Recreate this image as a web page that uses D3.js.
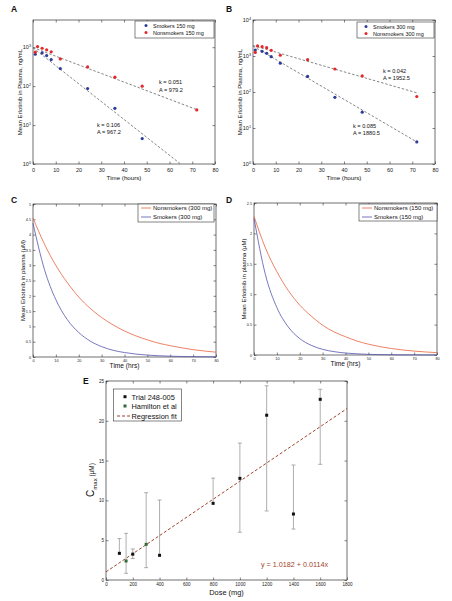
<!DOCTYPE html>
<html><head><meta charset="utf-8">
<script src="https://cdn.jsdelivr.net/npm/d3@7"></script>
<style>body{margin:0;background:#fff} svg{display:block}</style>
</head><body><svg id="c" width="452" height="601"></svg>
<script>
// ---------- DATA ----------
// Panel A (150 mg), concentrations ng/mL
const tSmk150 = [1,4,6,8,12,24,36,48];
const smk150 = [660,715,610,480,283,87,27,4.5];
const tNon150 = [1,2,4,6,8,12,24,36,48,72];
const non150 = [745,1040,940,855,760,500,312,170,100,24.5];
const fitTimeA = [0,72];
const fitSmk150 = [967.2,0.47];
const fitNon150 = [979.2,24.9];
// Panel B (300 mg)
const tSmk300 = [1,4,6,8,12,24,36,48,72];
const smk300 = [1470,1345,1185,960,630,270,71,27.6,4.1];
const tNon300 = [1,2,4,6,8,12,24,36,48,72];
const non300 = [1260,1900,1820,1700,1440,1050,790,435,280,75];
const fitTimeB = [0,72];
const fitSmk300 = [1880.5,4.1];
const fitNon300 = [1952.5,95];
// Panels C / D simulated curves (μM)
const tCurve = [0,5,10,15,20,25,30,35,40,45,50,55,60,65,70,75,80];
const curveNon300 = [4.54,3.69,2.99,2.43,1.96,1.59,1.29,1.05,0.85,0.69,0.56,0.45,0.37,0.30,0.24,0.195,0.158];
const curveSmk300 = [4.37,2.86,1.87,1.22,0.80,0.52,0.34,0.22,0.146,0.095,0.062,0.041,0.027,0.017,0.011,0.0074,0.0048];
const curveNon150 = [2.28,1.76,1.37,1.06,0.82,0.64,0.49,0.38,0.30,0.23,0.178,0.138,0.107,0.083,0.064,0.050,0.039];
const curveSmk150 = [2.25,1.32,0.78,0.46,0.27,0.159,0.093,0.055,0.032,0.019,0.011,0.0066,0.0039,0.0023,0.0013,0.0008,0.0005];
// Panel E
const doseTrial = [100,200,400,800,1000,1200,1400,1600];
const cmaxTrial = [3.35,3.25,3.1,9.63,12.77,20.7,8.29,22.7];
const lowTrial  = [3.35,2.7,3.1,9.63,6.0,8.67,6.4,14.53];
const highTrial = [5.2,3.9,10.05,12.8,17.2,24.4,14.45,23.96];
const doseHam = [150,300];
const cmaxHam = [2.39,4.48];
const lowHam  = [0.84,1.55];
const highHam = [5.86,10.97];
const regDose = [0,1800];
const regCmax = [1.02,21.54];
// tick values
const timeTicks = [0,10,20,30,40,50,60,70,80];
const logTicksA = [1,10,100,1000];
const logTicksB = [1,10,100,1000,10000];
const ticksC = [0,0.5,1,1.5,2,2.5,3,3.5,4,4.5,5];
const ticksD = [0,0.5,1,1.5,2,2.5];
const doseTicks = [0,200,400,600,800,1000,1200,1400,1600,1800];
const cmaxTicks = [0,5,10,15,20,25];

// ---------- DRAW ----------
const FONT = '"Liberation Sans", Arial, Helvetica, sans-serif';
const svg = d3.select("#c").attr("font-family", FONT);
const BLUE = "#2c3d98", RED = "#e5262a";
const CBLUE = "#5454ae", CRED = "#e8623e";

function axes(g, x, y, o) {
  const [x0,x1] = x.range(), [yb,yT] = y.range();
  const ts = o.ts || 3;
  g.append("g").attr("transform",`translate(0,${yb})`)
    .call(d3.axisBottom(x).tickValues(o.xt).tickSizeInner(-ts).tickSizeOuter(0).tickPadding(o.xpad).tickFormat(o.xf));
  g.append("g").attr("transform",`translate(0,${yT})`)
    .call(d3.axisTop(x).tickValues(o.xt).tickSizeInner(-ts).tickSizeOuter(0).tickFormat(""));
  const ay = g.append("g").attr("class","yax").attr("transform",`translate(${x0},0)`)
    .call(d3.axisLeft(y).tickValues(o.yt).tickSizeInner(-ts).tickSizeOuter(0).tickPadding(o.ypad).tickFormat(o.yf));
  g.append("g").attr("transform",`translate(${x1},0)`)
    .call(d3.axisRight(y).tickValues(o.yt).tickSizeInner(-ts).tickSizeOuter(0).tickFormat(""));
  g.selectAll(".domain").remove();
  g.selectAll(".tick line").attr("stroke","#333").attr("stroke-width",0.6);
  g.selectAll(".tick text").attr("font-size",o.fs).attr("fill","#222").attr("font-family",FONT);
  g.append("rect").attr("x",x0).attr("y",yT).attr("width",x1-x0).attr("height",yb-yT)
    .attr("fill","none").attr("stroke","#333").attr("stroke-width",0.7);
  return ay;
}
function supLabels(ay) {
  ay.selectAll(".tick text").each(function(d){
    const t = d3.select(this); t.text(null);
    t.append("tspan").text("10");
    t.append("tspan").attr("dy",-2.5).attr("font-size",3.8).text(Math.round(Math.log10(d)));
  });
}
function txt(g, x, y, s, fs, opt={}) {
  const t = g.append("text").attr("x",x).attr("y",y).attr("font-size",fs).attr("fill",opt.fill||"#111").text(s);
  if (opt.anchor) t.attr("text-anchor",opt.anchor);
  if (opt.weight) t.attr("font-weight",opt.weight);
  return t;
}
function vlabel(g, x, y, s, fs) {
  return g.append("text").attr("transform",`translate(${x},${y}) rotate(-90)`)
    .attr("text-anchor","middle").attr("font-size",fs).attr("fill","#111").text(s);
}

// ---- Log panels A and B ----
function logPanel(id, o) {
  const g = svg.append("g");
  const x = d3.scaleLinear([0,80],[o.left,o.right]);
  const y = d3.scaleLog([1,o.ymax],[164,20]);
  const ay = axes(g,x,y,{xt:timeTicks, yt:o.yticks, xpad:4, ypad:2, fs:5.5, xf:d3.format("d"), yf:d=>"", ts:2.5});
  supLabels(ay);
  g.append("clipPath").attr("id",id).append("rect").attr("x",o.left).attr("y",20).attr("width",o.right-o.left).attr("height",144);
  const pl = g.append("g").attr("clip-path",`url(#${id})`);
  const line = d3.line().x(d=>x(d[0])).y(d=>y(d[1]));
  [o.fitNon,o.fitSmk].forEach(f=>{
    pl.append("path").attr("d",line(d3.zip(o.fitT,f))).attr("fill","none")
      .attr("stroke","#666").attr("stroke-width",0.8).attr("stroke-dasharray","2.5,1.8");
  });
  pl.selectAll(null).data(d3.zip(o.tSmk,o.smk)).join("circle").attr("cx",d=>x(d[0])).attr("cy",d=>y(d[1])).attr("r",1.6).attr("fill",BLUE);
  pl.selectAll(null).data(d3.zip(o.tNon,o.non)).join("circle").attr("cx",d=>x(d[0])).attr("cy",d=>y(d[1])).attr("r",1.6).attr("fill",RED);
  // legend
  const L = o.leg;
  g.append("rect").attr("x",L[0]).attr("y",L[1]).attr("width",L[2]).attr("height",L[3]).attr("fill","#fff").attr("stroke","#333").attr("stroke-width",0.6);
  g.append("circle").attr("cx",L[4]).attr("cy",L[1]+4.5).attr("r",1.5).attr("fill",BLUE);
  g.append("circle").attr("cx",L[4]).attr("cy",L[1]+11.5).attr("r",1.5).attr("fill",RED);
  txt(g,L[4]+7,L[1]+6.5,o.legText[0],5.5);
  txt(g,L[4]+7,L[1]+13.5,o.legText[1],5.5);
  // annotations
  o.ann.forEach(a=>txt(g,a[0],a[1],a[2],5.6));
  vlabel(g,o.left-11,92,"Mean Erlotinib in Plasma, ng/mL",6);
  txt(g,(o.left+o.right)/2,180,"Time (hours)",6.2,{anchor:"middle"});
  txt(g,o.lx,12,o.label,8.5,{weight:"bold"});
}
logPanel("clipA",{left:33,right:215,ymax:5000,yticks:logTicksA,
  tSmk:tSmk150,smk:smk150,tNon:tNon150,non:non150,fitT:fitTimeA,fitSmk:fitSmk150,fitNon:fitNon150,
  leg:[135,21,79,17,146],legText:["Smokers 150 mg","Nonsmokers 150 mg"],
  ann:[[159,84,"k = 0.051"],[159,91.5,"A = 979.2"],[97,126.5,"k = 0.106"],[97,134,"A = 967.2"]],
  label:"A",lx:11});
logPanel("clipB",{left:253,right:435,ymax:10000,yticks:logTicksB,
  tSmk:tSmk300,smk:smk300,tNon:tNon300,non:non300,fitT:fitTimeB,fitSmk:fitSmk300,fitNon:fitNon300,
  leg:[357,22,77,16,366],legText:["Smokers 300 mg","Nonsmokers 300 mg"],
  ann:[[383,72.5,"k = 0.042"],[383,80,"A = 1952.5"],[353,127.5,"k = 0.085"],[353,135,"A = 1880.5"]],
  label:"B",lx:226});

// ---- Linear panels C and D ----
function linPanel(o) {
  const g = svg.append("g");
  const x = d3.scaleLinear([0,80],[o.left,o.right]);
  const y = d3.scaleLinear([0,o.ymax],[o.bottom,o.top]);
  axes(g,x,y,{xt:timeTicks, yt:o.yticks, xpad:2.5, ypad:2, fs:3.8, xf:d3.format("d"), yf:d=>d, ts:2.5});
  const line = d3.line().x((d,i)=>x(tCurve[i])).y(d=>y(d)).curve(d3.curveMonotoneX);
  g.append("path").attr("d",line(o.non)).attr("fill","none").attr("stroke",CRED).attr("stroke-width",0.8);
  g.append("path").attr("d",line(o.smk)).attr("fill","none").attr("stroke",CBLUE).attr("stroke-width",0.8);
  const L=o.leg;
  g.append("rect").attr("x",L[0]).attr("y",L[1]).attr("width",L[2]).attr("height",L[3]).attr("fill","#fff").attr("stroke","#333").attr("stroke-width",0.6);
  g.append("line").attr("x1",L[0]+3).attr("x2",L[0]+13).attr("y1",L[1]+4).attr("y2",L[1]+4).attr("stroke",CRED).attr("stroke-width",0.8);
  g.append("line").attr("x1",L[0]+3).attr("x2",L[0]+13).attr("y1",L[1]+13).attr("y2",L[1]+13).attr("stroke",CBLUE).attr("stroke-width",0.8);
  txt(g,L[0]+15,L[1]+6.2,o.legText[0],6);
  txt(g,L[0]+15,L[1]+15.2,o.legText[1],6);
  vlabel(g,o.left-8,(o.top+o.bottom)/2,"Mean Erlotinib in plasma (μM)",6.1);
  txt(g,(o.left+o.right)/2,o.bottom+11,"Time (hrs)",6.6,{anchor:"middle"});
  txt(g,o.lx,203,o.label,8.5,{weight:"bold"});
}
linPanel({left:33,right:216,top:204,bottom:357,ymax:5,yticks:ticksC,non:curveNon300,smk:curveSmk300,
  leg:[138,204,76,18],legText:["Nonsmokers (300 mg)","Smokers (300 mg)"],label:"C",lx:11});
linPanel({left:254,right:437,top:203,bottom:355,ymax:2.5,yticks:ticksD,non:curveNon150,smk:curveSmk150,
  leg:[359,204,78,17],legText:["Nonsmokers (150 mg)","Smokers (150 mg)"],label:"D",lx:226});

// ---- Panel E ----
(function(){
  const g = svg.append("g");
  const x = d3.scaleLinear([0,1800],[106,347]);
  const y = d3.scaleLinear([0,25],[580,381]);
  axes(g,x,y,{xt:doseTicks, yt:cmaxTicks, xpad:3, ypad:2, fs:4.6, xf:d3.format("d"), yf:d3.format("d"), ts:2.5});
  g.append("path").attr("d",d3.line().x((d,i)=>x(regDose[i])).y(d=>y(d))(regCmax))
    .attr("fill","none").attr("stroke","#a0452a").attr("stroke-width",1).attr("stroke-dasharray","3,2");
  function errs(dose,cm,lo,hi,col){
    dose.forEach((d,i)=>{
      const px=x(d);
      g.append("line").attr("x1",px).attr("x2",px).attr("y1",y(hi[i])).attr("y2",y(lo[i])).attr("stroke","#8c8c8c").attr("stroke-width",0.7);
      g.append("line").attr("x1",px-2).attr("x2",px+2).attr("y1",y(hi[i])).attr("y2",y(hi[i])).attr("stroke","#8c8c8c").attr("stroke-width",0.7);
      if (lo[i] < cm[i]) g.append("line").attr("x1",px-2).attr("x2",px+2).attr("y1",y(lo[i])).attr("y2",y(lo[i])).attr("stroke","#8c8c8c").attr("stroke-width",0.7);
    });
    g.selectAll(null).data(d3.zip(dose,cm)).join("rect").attr("x",d=>x(d[0])-1.5).attr("y",d=>y(d[1])-1.5)
      .attr("width",3).attr("height",3).attr("fill",col);
  }
  errs(doseTrial,cmaxTrial,lowTrial,highTrial,"#111");
  errs(doseHam,cmaxHam,lowHam,highHam,"#2f6b3a");
  // legend
  g.append("rect").attr("x",113.5).attr("y",389).attr("width",68).attr("height",32).attr("fill","#fff").attr("stroke","#333").attr("stroke-width",0.6);
  g.append("rect").attr("x",123.5).attr("y",395.2).attr("width",3).attr("height",3).attr("fill","#111");
  g.append("rect").attr("x",123.5).attr("y",404.5).attr("width",3).attr("height",3).attr("fill","#2f6b3a");
  g.append("line").attr("x1",117).attr("x2",130).attr("y1",416).attr("y2",416).attr("stroke","#a0452a").attr("stroke-width",1).attr("stroke-dasharray","3,2");
  txt(g,131.5,399.5,"Trial 248-005",7.4);
  txt(g,131.5,409,"Hamilton et al",7.4);
  txt(g,131.5,418.5,"Regression fit",7.4);
  txt(g,261,566.5,"y = 1.0182 + 0.0114x",7.2,{fill:"#a0451f"});
  txt(g,226.5,595,"Dose (mg)",7.4,{anchor:"middle"});
  const yl = g.append("text").attr("transform","translate(94,480) rotate(-90)").attr("text-anchor","middle").attr("fill","#111");
  yl.append("tspan").attr("font-size",10).text("C");
  yl.append("tspan").attr("font-size",6).attr("dy",2.5).text("max");
  yl.append("tspan").attr("font-size",6.5).attr("dy",-2.5).text(" (μM)");
  txt(g,83,384,"E",8.5,{weight:"bold"});
})();
</script></body></html>
